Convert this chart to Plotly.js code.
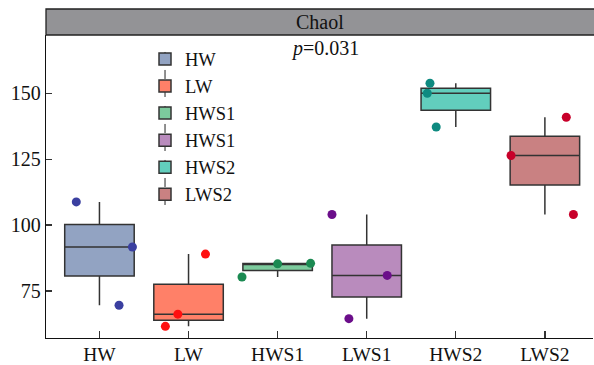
<!DOCTYPE html>
<html>
<head>
<meta charset="utf-8">
<script src="https://cdn.plot.ly/plotly-3.0.1.min.js"></script>
<style>html,body{margin:0;padding:0;background:#fff;}#chart{width:594px;height:365px;}</style>
</head>
<body>
<div id="chart"></div>
<script>
// ---- data ----
const categories = ['HW', 'LW', 'HWS1', 'LWS1', 'HWS2', 'LWS2'];
const legendNames = ['HW', 'LW', 'HWS1', 'HWS1', 'HWS2', 'LWS2'];
const valuesHW   = [108.8, 91.7, 69.6];
const valuesLW   = [61.6, 66.2, 89.0];
const valuesHWS1 = [80.3, 85.3, 85.5];
const valuesLWS1 = [104.0, 80.9, 64.5];
const valuesHWS2 = [153.8, 150.0, 137.2];
const valuesLWS2 = [140.9, 126.4, 104.0];
// horizontal jitter of each sample point (category units)
const jitterHW   = [-0.26, 0.37, 0.22];
const jitterLW   = [-0.26, -0.12, 0.19];
const jitterHWS1 = [-0.40, 0.00, 0.37];
const jitterLWS1 = [-0.39, 0.23, -0.20];
const jitterHWS2 = [-0.29, -0.32, -0.22];
const jitterLWS2 = [0.24, -0.38, 0.32];
const yTicks = [75, 100, 125, 150];
const panelTitle = 'Chaol';
const pText = '<i>p</i>=0.031';

// ---- styles ----
const allValues = [valuesHW, valuesLW, valuesHWS1, valuesLWS1, valuesHWS2, valuesLWS2];
const allJitter = [jitterHW, jitterLW, jitterHWS1, jitterLWS1, jitterHWS2, jitterLWS2];
const fillColors = ['#92a3c2', '#ff8068', '#7ccb9d', '#b98bbd', '#62cebd', '#c98182'];
const pointColors = ['#3a3fa0', '#ff1010', '#1b8a52', '#6b0e8a', '#0e8a80', '#c8002a'];
const FONT = 'Liberation Serif, Times New Roman, serif';

const traces = [];
categories.forEach((c, i) => {
  traces.push({
    type: 'box',
    name: legendNames[i],
    x: allValues[i].map(() => i),
    y: allValues[i],
    boxpoints: false,
    quartilemethod: 'inclusive',
    width: 0.78,
    fillcolor: fillColors[i],
    line: {color: '#333333', width: 1.5},
    whiskerwidth: 0,
    hoverinfo: 'skip'
  });
});
categories.forEach((c, i) => {
  traces.push({
    type: 'scatter',
    mode: 'markers',
    x: allValues[i].map((v, j) => i + allJitter[i][j]),
    y: allValues[i],
    marker: {color: pointColors[i], size: 9, line: {width: 0}},
    showlegend: false,
    cliponaxis: false,
    hoverinfo: 'skip'
  });
});

const plotH = 303;
const layout = {
  width: 594, height: 365,
  margin: {l: 46, r: 1, t: 35, b: 27, pad: 0},
  paper_bgcolor: '#ffffff', plot_bgcolor: '#ffffff',
  font: {family: FONT, size: 20, color: '#111'},
  showlegend: true,
  legend: {
    x: 0.181, y: 0.982, xanchor: 'left', yanchor: 'top',
    bgcolor: 'rgba(0,0,0,0)', borderwidth: 0,
    font: {family: FONT, size: 18.5, color: '#111'},
    traceorder: 'normal'
  },
  xaxis: {
    type: 'linear', range: [-0.6, 5.54],
    tickvals: categories.map((c, i) => i), ticktext: categories,
    ticks: 'inside', ticklen: 7, tickwidth: 1.3, tickcolor: '#333',
    ticklabelstandoff: -2,
    showline: true, linecolor: '#111', linewidth: 1.3,
    showgrid: false, zeroline: false,
    tickfont: {family: FONT, size: 19.5, color: '#111'}
  },
  yaxis: {
    range: [57.17, 172.1],
    tickvals: yTicks,
    ticks: 'inside', ticklen: 6, tickwidth: 1.3, tickcolor: '#333',
    showline: true, linecolor: '#111', linewidth: 1.3,
    showgrid: false, zeroline: false,
    tickfont: {family: FONT, size: 20, color: '#111'}
  },
  shapes: [
    {type: 'rect', xref: 'paper', yref: 'paper', x0: 0, x1: 1.005, y0: 1, y1: 1 + 26 / plotH,
     fillcolor: '#939396', line: {color: '#222', width: 1.3}},
    {type: 'line', xref: 'paper', yref: 'paper', x0: 0.2176, x1: 0.2176, y0: 0.439, y1: 0.960,
     line: {color: '#222', width: 1, dash: 'dash'}}
  ],
  annotations: [
    {text: panelTitle, xref: 'paper', yref: 'paper', x: 0.5, y: 1 + 13 / plotH,
     xanchor: 'center', yanchor: 'middle', showarrow: false,
     font: {family: FONT, size: 20, color: '#111'}},
    {text: pText, xref: 'paper', yref: 'paper', x: 0.51, y: 0.954,
     xanchor: 'center', yanchor: 'middle', showarrow: false,
     font: {family: FONT, size: 20, color: '#111'}}
  ]
};

Plotly.newPlot('chart', traces, layout, {displayModeBar: false, staticPlot: true});
</script>
</body>
</html>
